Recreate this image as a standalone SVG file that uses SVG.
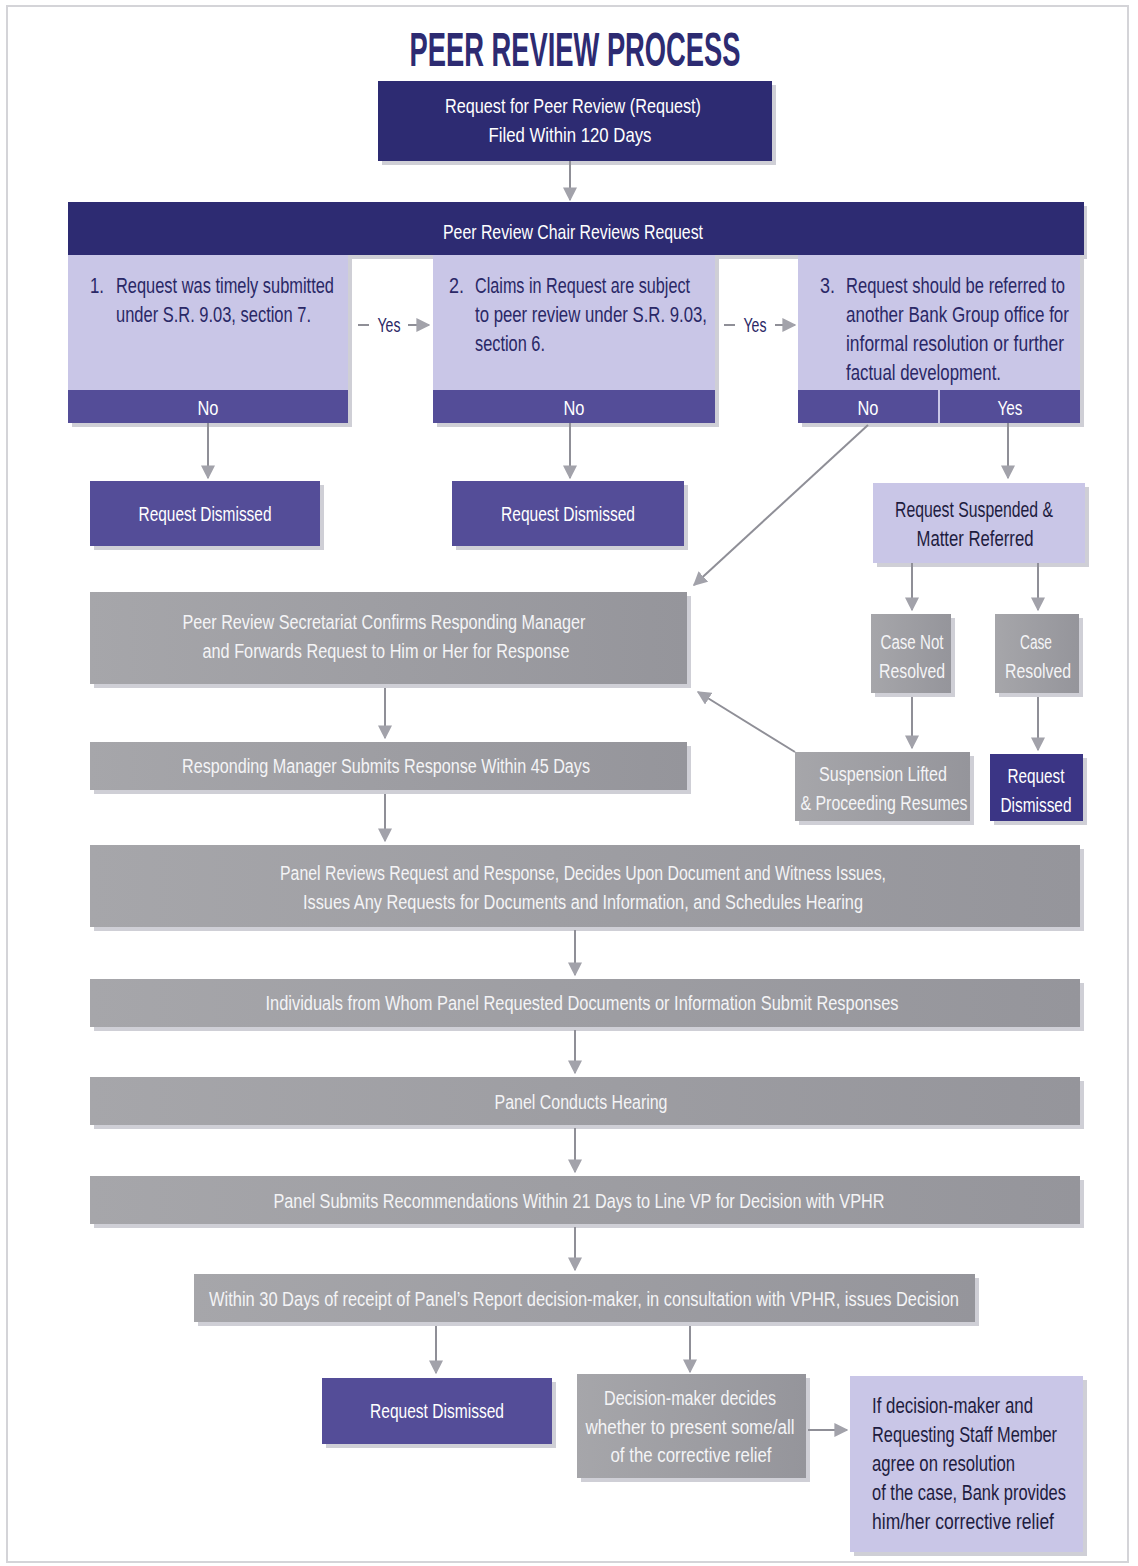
<svg xmlns="http://www.w3.org/2000/svg" width="1138" height="1566" viewBox="0 0 1138 1566">
<style>
text{font-family:"Liberation Sans",Arial,sans-serif;}
.navy{fill:#2d2b72;}
.purp{fill:#544d98;}
.lav{fill:#c9c6e7;}
.gray{fill:url(#gg);}
.sh{fill:#cfcfd6;}
.w{fill:#ffffff;font-size:21px;text-anchor:middle;}
.wg{fill:#f4f4f6;font-size:20px;text-anchor:middle;}
.d{fill:#2a2866;font-size:22px;}
.dc{fill:#1e1c40;font-size:22px;text-anchor:middle;}
.k{fill:#1e1c40;font-size:22px;}
.ln{stroke:#8f8f97;stroke-width:2;fill:none;}
</style>
<defs>
<linearGradient id="gg" x1="0" y1="0" x2="1" y2="0">
<stop offset="0" stop-color="#a6a6aa"/>
<stop offset="1" stop-color="#95959b"/>
</linearGradient>
<marker id="ahb" viewBox="0 0 10 10" refX="9" refY="5" markerWidth="14" markerHeight="14" orient="auto" markerUnits="userSpaceOnUse">
<path d="M0,0 L10,5 L0,10 z" fill="#a2a2aa"/>
</marker>
</defs>
<rect x="0" y="0" width="1138" height="1566" fill="#ffffff"/>
<rect x="7" y="6" width="1121" height="1556" fill="none" stroke="#d4d4d8" stroke-width="2"/>

<text x="575" y="66" text-anchor="middle" font-size="48" font-weight="bold" fill="#2d2b72" textLength="331" lengthAdjust="spacingAndGlyphs">PEER REVIEW PROCESS</text>

<g id="n-request">
<rect class="sh" x="382" y="85" width="394" height="80"/>
<rect class="navy" x="378" y="81" width="394" height="80"/>
<text class="w" x="573" y="113" textLength="256" lengthAdjust="spacingAndGlyphs">Request for Peer Review (Request)</text>
<text class="w" x="570" y="142" textLength="163" lengthAdjust="spacingAndGlyphs">Filed Within 120 Days</text>
</g>

<g id="n-chair">
<rect class="sh" x="72" y="206" width="1015" height="53"/>
<rect class="navy" x="68" y="202" width="1016" height="53"/>
<text class="w" x="573" y="239" textLength="260" lengthAdjust="spacingAndGlyphs">Peer Review Chair Reviews Request</text>
</g>

<g id="n-q1">
<rect class="sh" x="72" y="259" width="280" height="168"/>
<rect class="lav" x="68" y="255" width="280" height="136"/>
<rect class="purp" x="68" y="390" width="280" height="33"/>
<text class="d" x="90" y="293" textLength="14" lengthAdjust="spacingAndGlyphs">1.</text>
<text class="d" x="116" y="293" textLength="218" lengthAdjust="spacingAndGlyphs">Request was timely submitted</text>
<text class="d" x="116" y="322" textLength="195" lengthAdjust="spacingAndGlyphs">under S.R. 9.03, section 7.</text>
<text class="w" x="208" y="415" textLength="21" lengthAdjust="spacingAndGlyphs">No</text>
</g>

<g id="n-q2">
<rect class="sh" x="437" y="259" width="282" height="168"/>
<rect class="lav" x="433" y="255" width="282" height="136"/>
<rect class="purp" x="433" y="390" width="282" height="33"/>
<text class="d" x="449" y="293" textLength="15" lengthAdjust="spacingAndGlyphs">2.</text>
<text class="d" x="475" y="293" textLength="215" lengthAdjust="spacingAndGlyphs">Claims in Request are subject</text>
<text class="d" x="475" y="322" textLength="232" lengthAdjust="spacingAndGlyphs">to peer review under S.R. 9.03,</text>
<text class="d" x="475" y="351" textLength="70" lengthAdjust="spacingAndGlyphs">section 6.</text>
<text class="w" x="574" y="415" textLength="21" lengthAdjust="spacingAndGlyphs">No</text>
</g>

<g id="n-q3">
<rect class="sh" x="802" y="259" width="282" height="168"/>
<rect class="lav" x="798" y="255" width="282" height="136"/>
<rect class="purp" x="798" y="390" width="282" height="33"/>
<line x1="939" y1="390" x2="939" y2="423" stroke="#c9c6e7" stroke-width="2"/>
<text class="d" x="820" y="293" textLength="15" lengthAdjust="spacingAndGlyphs">3.</text>
<text class="d" x="846" y="293" textLength="219" lengthAdjust="spacingAndGlyphs">Request should be referred to</text>
<text class="d" x="846" y="322" textLength="223" lengthAdjust="spacingAndGlyphs">another Bank Group office for</text>
<text class="d" x="846" y="351" textLength="218" lengthAdjust="spacingAndGlyphs">informal resolution or further</text>
<text class="d" x="846" y="380" textLength="155" lengthAdjust="spacingAndGlyphs">factual development.</text>
<text class="w" x="868" y="415" textLength="21" lengthAdjust="spacingAndGlyphs">No</text>
<text class="w" x="1010" y="415" textLength="25" lengthAdjust="spacingAndGlyphs">Yes</text>
</g>

<g id="n-dis1">
<rect class="sh" x="94" y="485" width="230" height="65"/>
<rect class="purp" x="90" y="481" width="230" height="65"/>
<text class="w" x="205" y="521" textLength="133" lengthAdjust="spacingAndGlyphs">Request Dismissed</text>
</g>

<g id="n-dis2">
<rect class="sh" x="456" y="485" width="232" height="65"/>
<rect class="purp" x="452" y="481" width="232" height="65"/>
<text class="w" x="568" y="521" textLength="134" lengthAdjust="spacingAndGlyphs">Request Dismissed</text>
</g>

<g id="n-suspended">
<rect class="sh" x="877" y="487" width="212" height="80"/>
<rect class="lav" x="873" y="483" width="212" height="80"/>
<text class="dc" x="974" y="517" textLength="158" lengthAdjust="spacingAndGlyphs">Request Suspended &amp;</text>
<text class="dc" x="975" y="546" textLength="117" lengthAdjust="spacingAndGlyphs">Matter Referred</text>
</g>

<g id="n-secretariat">
<rect class="sh" x="94" y="596" width="597" height="92"/>
<rect class="gray" x="90" y="592" width="597" height="92"/>
<text class="wg" x="384" y="629" textLength="403" lengthAdjust="spacingAndGlyphs">Peer Review Secretariat Confirms Responding Manager</text>
<text class="wg" x="386" y="658" textLength="367" lengthAdjust="spacingAndGlyphs">and Forwards Request to Him or Her for Response</text>
</g>

<g id="n-notresolved">
<rect class="sh" x="875" y="618" width="80" height="79"/>
<rect class="gray" x="871" y="614" width="80" height="79"/>
<text class="wg" x="912" y="649" textLength="63" lengthAdjust="spacingAndGlyphs">Case Not</text>
<text class="wg" x="912" y="678" textLength="66" lengthAdjust="spacingAndGlyphs">Resolved</text>
</g>

<g id="n-resolved">
<rect class="sh" x="999" y="618" width="84" height="79"/>
<rect class="gray" x="995" y="614" width="84" height="79"/>
<text class="wg" x="1036" y="649" textLength="32" lengthAdjust="spacingAndGlyphs">Case</text>
<text class="wg" x="1038" y="678" textLength="66" lengthAdjust="spacingAndGlyphs">Resolved</text>
</g>

<g id="n-lifted">
<rect class="sh" x="799" y="756" width="175" height="69"/>
<rect class="gray" x="795" y="752" width="175" height="69"/>
<text class="wg" x="883" y="781" textLength="128" lengthAdjust="spacingAndGlyphs">Suspension Lifted</text>
<text class="wg" x="884" y="810" textLength="167" lengthAdjust="spacingAndGlyphs">&amp; Proceeding Resumes</text>
</g>

<g id="n-dis3">
<rect class="sh" x="994" y="758" width="93" height="67"/>
<rect fill="#3b3585" x="990" y="754" width="93" height="67"/>
<text class="w" x="1036" y="783" textLength="57" lengthAdjust="spacingAndGlyphs">Request</text>
<text class="w" x="1036" y="812" textLength="71" lengthAdjust="spacingAndGlyphs">Dismissed</text>
</g>

<g id="n-response">
<rect class="sh" x="94" y="746" width="597" height="48"/>
<rect class="gray" x="90" y="742" width="597" height="48"/>
<text class="wg" x="386" y="773" textLength="408" lengthAdjust="spacingAndGlyphs">Responding Manager Submits Response Within 45 Days</text>
</g>

<g id="n-panelreviews">
<rect class="sh" x="94" y="849" width="990" height="82"/>
<rect class="gray" x="90" y="845" width="990" height="82"/>
<text class="wg" x="583" y="880" textLength="606" lengthAdjust="spacingAndGlyphs">Panel Reviews Request and Response, Decides Upon Document and Witness Issues,</text>
<text class="wg" x="583" y="909" textLength="560" lengthAdjust="spacingAndGlyphs">Issues Any Requests for Documents and Information, and Schedules Hearing</text>
</g>

<g id="n-individuals">
<rect class="sh" x="94" y="983" width="990" height="48"/>
<rect class="gray" x="90" y="979" width="990" height="48"/>
<text class="wg" x="582" y="1010" textLength="633" lengthAdjust="spacingAndGlyphs">Individuals from Whom Panel Requested Documents or Information Submit Responses</text>
</g>

<g id="n-hearing">
<rect class="sh" x="94" y="1081" width="990" height="48"/>
<rect class="gray" x="90" y="1077" width="990" height="48"/>
<text class="wg" x="581" y="1109" textLength="173" lengthAdjust="spacingAndGlyphs">Panel Conducts Hearing</text>
</g>

<g id="n-recommend">
<rect class="sh" x="94" y="1180" width="990" height="48"/>
<rect class="gray" x="90" y="1176" width="990" height="48"/>
<text class="wg" x="579" y="1208" textLength="611" lengthAdjust="spacingAndGlyphs">Panel Submits Recommendations Within 21 Days to Line VP for Decision with VPHR</text>
</g>

<g id="n-decision">
<rect class="sh" x="198" y="1278" width="781" height="48"/>
<rect class="gray" x="194" y="1274" width="781" height="48"/>
<text class="wg" x="584" y="1306" textLength="750" lengthAdjust="spacingAndGlyphs">Within 30 Days of receipt of Panel’s Report decision-maker, in consultation with VPHR, issues Decision</text>
</g>

<g id="n-dis4">
<rect class="sh" x="326" y="1382" width="230" height="66"/>
<rect class="purp" x="322" y="1378" width="230" height="66"/>
<text class="w" x="437" y="1418" textLength="134" lengthAdjust="spacingAndGlyphs">Request Dismissed</text>
</g>

<g id="n-decides">
<rect class="sh" x="581" y="1378" width="229" height="104"/>
<rect class="gray" x="577" y="1374" width="229" height="104"/>
<text class="wg" x="690" y="1405" textLength="172" lengthAdjust="spacingAndGlyphs">Decision-maker decides</text>
<text class="wg" x="690" y="1434" textLength="209" lengthAdjust="spacingAndGlyphs">whether to present some/all</text>
<text class="wg" x="691" y="1462" textLength="161" lengthAdjust="spacingAndGlyphs">of the corrective relief</text>
</g>

<g id="n-agree">
<rect class="sh" x="854" y="1380" width="233" height="176"/>
<rect class="lav" x="850" y="1376" width="233" height="176"/>
<text class="k" x="872" y="1413" textLength="161" lengthAdjust="spacingAndGlyphs">If decision-maker and</text>
<text class="k" x="872" y="1442" textLength="185" lengthAdjust="spacingAndGlyphs">Requesting Staff Member</text>
<text class="k" x="872" y="1471" textLength="143" lengthAdjust="spacingAndGlyphs">agree on resolution</text>
<text class="k" x="872" y="1500" textLength="194" lengthAdjust="spacingAndGlyphs">of the case, Bank provides</text>
<text class="k" x="872" y="1529" textLength="182" lengthAdjust="spacingAndGlyphs">him/her corrective relief</text>
</g>

<g id="connectors">
<line class="ln" x1="570" y1="161" x2="570" y2="200" marker-end="url(#ahb)"/>
<line class="ln" x1="208" y1="423" x2="208" y2="478" marker-end="url(#ahb)"/>
<line class="ln" x1="570" y1="423" x2="570" y2="478" marker-end="url(#ahb)"/>
<line class="ln" x1="1008" y1="423" x2="1008" y2="478" marker-end="url(#ahb)"/>
<line class="ln" x1="868" y1="425" x2="694" y2="585" marker-end="url(#ahb)"/>
<line class="ln" x1="912" y1="563" x2="912" y2="610" marker-end="url(#ahb)"/>
<line class="ln" x1="1038" y1="563" x2="1038" y2="610" marker-end="url(#ahb)"/>
<line class="ln" x1="912" y1="697" x2="912" y2="748" marker-end="url(#ahb)"/>
<line class="ln" x1="1038" y1="697" x2="1038" y2="750" marker-end="url(#ahb)"/>
<line class="ln" x1="795" y1="752" x2="698" y2="692" marker-end="url(#ahb)"/>
<line class="ln" x1="385" y1="688" x2="385" y2="738" marker-end="url(#ahb)"/>
<line class="ln" x1="385" y1="794" x2="385" y2="841" marker-end="url(#ahb)"/>
<line class="ln" x1="575" y1="930" x2="575" y2="975" marker-end="url(#ahb)"/>
<line class="ln" x1="575" y1="1030" x2="575" y2="1073" marker-end="url(#ahb)"/>
<line class="ln" x1="575" y1="1128" x2="575" y2="1172" marker-end="url(#ahb)"/>
<line class="ln" x1="575" y1="1227" x2="575" y2="1270" marker-end="url(#ahb)"/>
<line class="ln" x1="436" y1="1326" x2="436" y2="1373" marker-end="url(#ahb)"/>
<line class="ln" x1="690" y1="1326" x2="690" y2="1372" marker-end="url(#ahb)"/>
<line class="ln" x1="808" y1="1430" x2="847" y2="1430" marker-end="url(#ahb)"/>
<line class="ln" x1="358" y1="325" x2="369" y2="325"/>
<text x="389" y="332" font-size="20" fill="#2a2866" text-anchor="middle" textLength="23" lengthAdjust="spacingAndGlyphs">Yes</text>
<line class="ln" x1="408" y1="325" x2="429" y2="325" marker-end="url(#ahb)"/>
<line class="ln" x1="724" y1="325" x2="735" y2="325"/>
<text x="755" y="332" font-size="20" fill="#2a2866" text-anchor="middle" textLength="23" lengthAdjust="spacingAndGlyphs">Yes</text>
<line class="ln" x1="775" y1="325" x2="795" y2="325" marker-end="url(#ahb)"/>
</g>
</svg>
